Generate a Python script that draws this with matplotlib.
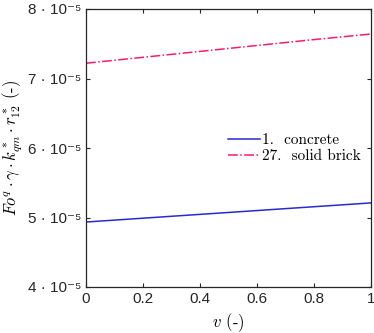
import numpy as np
import matplotlib.pyplot as plt

plt.rcParams['mathtext.fontset'] = 'cm'
plt.rcParams['font.family'] = ['Liberation Sans', 'DejaVu Sans']

# values (scaled by 1e-5)
v = [0.0, 0.2, 0.4, 0.6, 0.8, 1.0]
concrete = [4.935, 4.99, 5.045, 5.10, 5.155, 5.21]
brick = [7.22, 7.305, 7.39, 7.475, 7.56, 7.64]
yticks = [4, 5, 6, 7, 8]
ytick_labels = ['%d \u00b7 10\u207b\u2075' % t for t in yticks]

fig = plt.figure(figsize=(3.74, 3.33), dpi=100)
ax = fig.add_axes([86 / 374, 1 - 287 / 333, 285 / 374, 278 / 333])

ax.plot(v, concrete, color='#2a2ad0', linestyle='-', linewidth=1.1,
        label='1.  concrete')
ax.plot(v, brick, color='#ff1a6e', linestyle='-.', linewidth=1.1,
        label='27.  solid brick')

ax.set_xlim(0, 1)
ax.set_ylim(4, 8)
ax.set_xticks([0, 0.2, 0.4, 0.6, 0.8, 1])
ax.set_xticklabels(['0', '0.2', '0.4', '0.6', '0.8', '1'])
ax.set_yticks(yticks)
ax.set_yticklabels(ytick_labels)
ax.tick_params(direction='in', top=True, right=True, labelsize=11,
               length=3, colors='#262626', labelcolor='#262626')
for s in ax.spines.values():
    s.set_color('#262626')
    s.set_linewidth(0.9)

ax.set_xlabel(r'$v$ (-)', fontsize=12, family='cmr10')
ax.set_ylabel(r'$Fo^q\cdot\gamma\cdot k^*_{qm}\cdot r^*_{12}$ (-)', fontsize=12,
              family='cmr10', labelpad=2)

ax.legend(loc='center left', bbox_to_anchor=(0.45, 0.50), frameon=False,
          prop={'family': 'cmr10', 'size': 11}, handlelength=2.1,
          handletextpad=0.1, labelspacing=0.15)

fig.savefig('out.png', dpi=100)
